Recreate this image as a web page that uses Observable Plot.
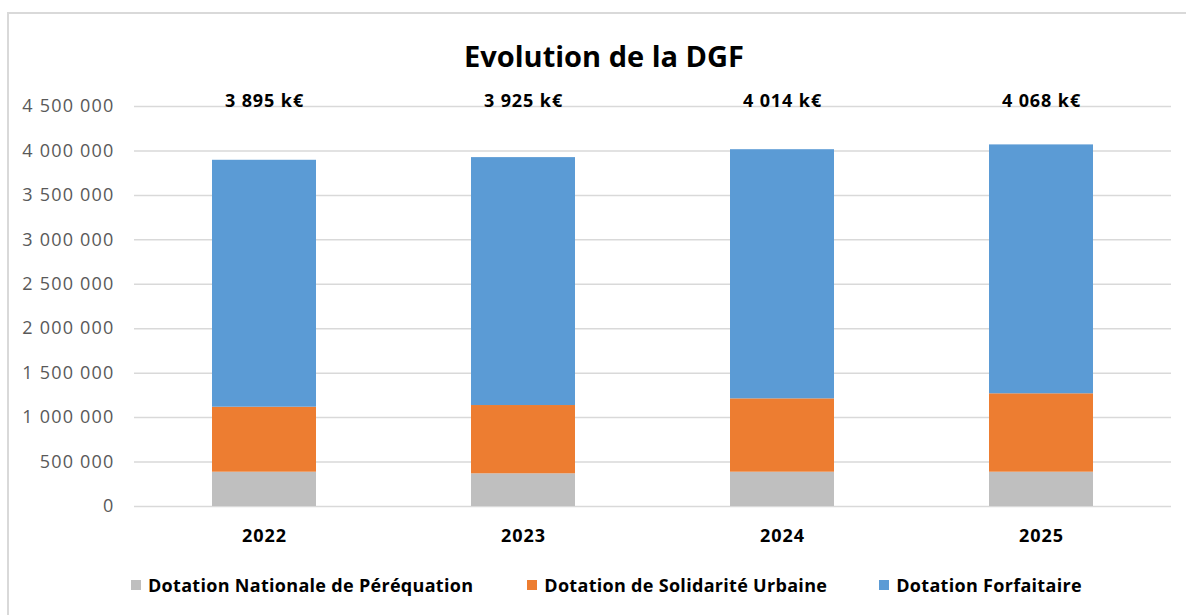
<!DOCTYPE html>
<html>
<head>
<meta charset="utf-8">
<script src="https://cdn.jsdelivr.net/npm/d3@7"></script>
<script src="https://cdn.jsdelivr.net/npm/@observablehq/plot@0.6"></script>
<style>
  html, body { margin: 0; padding: 0; background: #fff; }
  #wrap { position: relative; width: 1186px; height: 615px; overflow: hidden; font-family: "Open Sans", sans-serif; }
  #frame { position: absolute; left: 7px; top: 12px; width: 1300px; height: 700px; border-top: 2px solid #d9d9d9; border-left: 2px solid #d9d9d9; box-sizing: border-box; }
  #title { position: absolute; left: 0; width: 1208px; top: 41px; text-align: center; font-size: 29px; font-weight: 700; line-height: 1; color: #000; }
  #chart { position: absolute; left: 0; top: 0; }
  #chart g[aria-label="y-axis tick label"] text { letter-spacing: 1.2px; }
  #chart g[aria-label="x-axis tick label"] text { letter-spacing: 1px; }
  #chart g[aria-label="text"] text { letter-spacing: 0.9px; }
  #legend { position: absolute; top: 574px; left: 131px; display: flex; gap: 0; font-size: 18px; letter-spacing: 0.3px; font-weight: 700; line-height: 22px; color: #000; }
  .item { display: flex; align-items: center; white-space: nowrap; }
  .sw { width: 10px; height: 10px; margin-right: 7px; }
</style>
</head>
<body>
<div id="wrap">
  <div id="frame"></div>
  <div id="chart"></div>
  <div id="title">Evolution de la DGF</div>
  <div id="legend"></div>
</div>
<script>
const years = ["2022", "2023", "2024", "2025"];
const seriesNames = ["Dotation Nationale de Péréquation", "Dotation de Solidarité Urbaine", "Dotation Forfaitaire"];
const colors = ["#bfbfbf", "#ed7d31", "#5b9bd5"];
const dnp = [386000, 368000, 386000, 386000];
const dsu = [731000, 768000, 825000, 882000];
const df  = [2778000, 2789000, 2803000, 2800000];
const totalsK = [3895, 3925, 4014, 4068];
const yTicks = [0, 500000, 1000000, 1500000, 2000000, 2500000, 3000000, 3500000, 4000000, 4500000];

const fr = d3.formatLocale({decimal: ",", thousands: "\u00a0", grouping: [3], currency: ["", "\u00a0€"]});
const fmt = fr.format(",d");

const seriesValues = [dnp, dsu, df];
const rows = [];
years.forEach((yr, i) => {
  seriesNames.forEach((s, j) => rows.push({year: yr, series: s, value: seriesValues[j][i]}));
});
const totals = years.map((yr, i) => ({year: yr, label: fmt(totalsK[i]) + " k€"}));

const plot = Plot.plot({
  width: 1186,
  height: 615,
  marginTop: 106,
  marginBottom: 109,
  marginLeft: 134,
  marginRight: 15,
  style: {fontFamily: "Open Sans, sans-serif", background: "transparent"},
  x: {domain: years, paddingInner: 0.6, paddingOuter: 0.3, label: null},
  y: {domain: [0, 4500000], label: null},
  color: {domain: seriesNames, range: colors},
  marks: [
    Plot.ruleY(yTicks, {stroke: "#d9d9d9", strokeWidth: 1.5}),
    Plot.barY(rows, {x: "year", y: "value", fill: "series", order: seriesNames}),
    Plot.axisY({ticks: yTicks, tickSize: 0, tickPadding: 20, tickFormat: fmt, fontSize: 18, fill: "#595959", label: null}),
    Plot.axisX({tickSize: 0, tickPadding: 23, fontSize: 18, fontWeight: "bold", fill: "#000", label: null}),
    Plot.text(totals, {x: "year", text: "label", frameAnchor: "top", dy: -12, fontSize: 18, fontWeight: "bold", fill: "#000"})
  ]
});
document.getElementById("chart").appendChild(plot);

const legend = document.getElementById("legend");
const gaps = ["0px", "54px", "52px"];
seriesNames.forEach((s, j) => {
  const it = document.createElement("div");
  it.className = "item";
  it.style.marginLeft = gaps[j];
  const sw = document.createElement("span");
  sw.className = "sw";
  sw.style.background = colors[j];
  const tx = document.createElement("span");
  tx.textContent = s;
  it.appendChild(sw); it.appendChild(tx);
  legend.appendChild(it);
});
</script>
</body>
</html>
